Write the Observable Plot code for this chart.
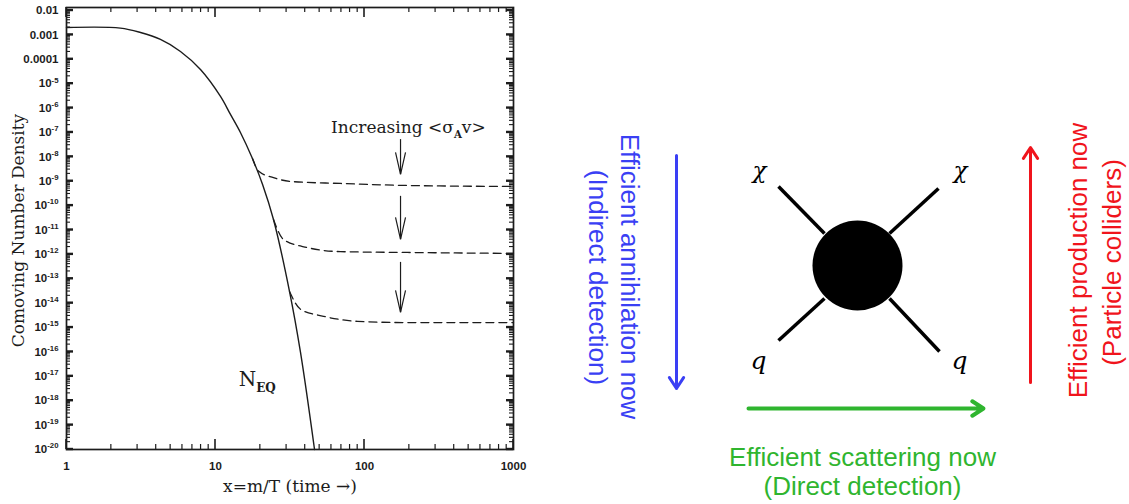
<!DOCTYPE html>
<html>
<head>
<meta charset="utf-8">
<script src="https://cdn.jsdelivr.net/npm/d3@7"></script>
<script src="https://cdn.jsdelivr.net/npm/@observablehq/plot@0.6"></script>
<style>
  html, body { margin: 0; padding: 0; background: #fff; }
  #wrap { position: relative; width: 1129px; height: 504px; overflow: hidden; background: #fff; }
  #left { position: absolute; left: 0; top: 0; }
  #right { position: absolute; left: 540px; top: 0; }
</style>
</head>
<body>
<div id="wrap"><div id="left"></div><div id="right"></div></div>
<script>
// ---------------- DATA (left panel: comoving number density) ----------------
const xTickValues = [1, 10, 100, 1000];
const xTickLabels = ["1", "10", "100", "1000"];
const yTickValues = [1e-2, 1e-3, 1e-4, 1e-5, 1e-6, 1e-7, 1e-8, 1e-9, 1e-10, 1e-11,
                     1e-12, 1e-13, 1e-14, 1e-15, 1e-16, 1e-17, 1e-18, 1e-19, 1e-20];
const yTickLabels = ["0.01", "0.001", "0.0001", "10^{-5}", "10^{-6}", "10^{-7}", "10^{-8}",
                     "10^{-9}", "10^{-10}", "10^{-11}", "10^{-12}", "10^{-13}", "10^{-14}",
                     "10^{-15}", "10^{-16}", "10^{-17}", "10^{-18}", "10^{-19}", "10^{-20}"];

// equilibrium curve N_EQ
const eqX = [1, 2.3, 3.14, 4.27, 5.82, 7.93, 10.8, 12.6, 14.7, 17.7, 20.7, 24.5, 31.4, 37.2, 46.2];
const eqY = [2.0e-3, 1.9e-3, 1.25e-3, 6.5e-4, 2.1e-4, 3.8e-5, 3.0e-6, 5.5e-7, 1.0e-7, 8.5e-9,
             7.4e-10, 2.7e-11, 3.0e-14, 9.6e-17, 1.0e-20];

// freeze-out (dashed) curves, increasing <sigma_A v>
const fo1X = [17.7, 19.4, 24.5, 31.9, 69, 194, 1000];
const fo1Y = [8.5e-9, 2.6e-9, 1.4e-9, 9.8e-10, 8.1e-10, 6.7e-10, 6.1e-10];
const fo2X = [24.5, 28.6, 41.4, 69, 194, 1000];
const fo2Y = [2.7e-11, 4.1e-12, 1.9e-12, 1.3e-12, 1.2e-12, 1.1e-12];
const fo3X = [31.4, 37.2, 53.1, 89.7, 194, 1000];
const fo3Y = [3.0e-14, 5.6e-15, 2.9e-15, 1.8e-15, 1.6e-15, 1.6e-15];

// "Increasing <sigma_A v>" arrows
const incArrowX = [174.5, 174.5, 174.5];
const incArrowFrom = [5.1e-8, 2.4e-10, 4.7e-13];
const incArrowTo = [1.9e-9, 4.1e-12, 4.2e-15];

const annText = ["Increasing <σ_{A}v>", "N_{EQ}"];
const annX = [197, 14.3];
const annY = [1.58e-7, 7.4e-18];
const xLabel = "x=m/T (time →)";
const yLabel = "Comoving Number Density";
const yLabelX = 0.476, yLabelY = 9.5e-12;

// ---------------- DATA (right panel: diagram) ----------------
const legX1 = [778, 938, 824, 889];
const legY1 = [186, 188, 298, 298];
const legX2 = [824, 889, 778, 939];
const legY2 = [233, 233, 340, 351];
const blobX = [857], blobY = [265];
const chiLabels = ["χ", "χ"], chiX = [759, 960], chiY = [170, 170];
const qLabels = ["q", "q"], qX = [758, 959], qY = [360, 360];

const blueLines = ["Efficient annihilation now", "(Indirect detection)"];
const blueX = [629, 597], blueY = [276, 277];
const greenLines = ["Efficient scattering now", "(Direct detection)"];
const greenX = [862, 862], greenY = [457, 486];
const redLines = ["Efficient production now", "(Particle colliders)"];
const redX = [1078, 1112], redY = [260, 262];
// arrows: [x1, y1, x2, y2]
const blueArrow = [676, 155, 676, 388];
const greenArrow = [748, 408, 983, 408];
const redArrow = [1030, 382, 1030, 147];

// ---------------- layout ----------------
const W = 540, H = 504, mL = 66, mR = 27, mT = 7, mB = 55;

// ---------------- build tables ----------------
const eq = eqX.map((x, i) => ({x, y: eqY[i]}));
const fo = [
  ...fo1X.map((x, i) => ({s: 1, x, y: fo1Y[i]})),
  ...fo2X.map((x, i) => ({s: 2, x, y: fo2Y[i]})),
  ...fo3X.map((x, i) => ({s: 3, x, y: fo3Y[i]}))
];
const incArrows = incArrowX.map((x, i) => ({x, y1: incArrowFrom[i], y2: incArrowTo[i]}));
const ann = annText.map((t, i) => ({t, x: annX[i], y: annY[i]}));

const yMinor = [];
for (let e = -20; e < -2; e++) for (let k = 2; k <= 9; k++) yMinor.push(k * Math.pow(10, e));
const xMinor = [];
for (let e = 0; e < 3; e++) for (let k = 2; k <= 9; k++) xMinor.push(k * Math.pow(10, e));

const ink = "#1c1c1c";
const vHead = {draw(ctx) { ctx.moveTo(-5, -22); ctx.lineTo(0, 0); ctx.lineTo(5, -22); }};

// inward tick marks, drawn with D3 through the plot's own scales
function addTicks(svg) {
  const sx = svg.scale("x"), sy = svg.scale("y");
  const X0 = mL, X1 = W - mR, Y0 = mT, Y1 = H - mB;
  const g = d3.select(svg).append("g").attr("fill", "none");
  const seg = (x1, y1, x2, y2, w) => g.append("path")
    .attr("d", `M${x1},${y1}L${x2},${y2}`).attr("stroke", ink).attr("stroke-width", w);
  for (const v of yTickValues) { const y = sy.apply(v); seg(X0, y, X0 + 7, y, 2.4); seg(X1, y, X1 - 7, y, 2.4); }
  for (const v of yMinor) { const y = sy.apply(v); seg(X0, y, X0 + 4, y, 1.1); seg(X1, y, X1 - 4, y, 1.1); }
  for (const v of xTickValues) { const x = sx.apply(v); seg(x, Y1, x, Y1 - 10, 1.6); seg(x, Y0, x, Y0 + 10, 1.6); }
  for (const v of xMinor) { const x = sx.apply(v); seg(x, Y1, x, Y1 - 5, 1.2); seg(x, Y0, x, Y0 + 5, 1.2); }
}

const left = Plot.plot({
  width: W, height: H,
  marginLeft: mL, marginRight: mR, marginTop: mT, marginBottom: mB,
  x: {type: "log", domain: [1, 1000]},
  y: {type: "log", domain: [1e-20, 0.0133]},
  style: {background: "white", color: ink, fontFamily: "'Liberation Sans', Arial, sans-serif"},
  marks: [
    Plot.axisY({anchor: "left", ticks: yTickValues, tickSize: 0, tickPadding: 8, label: null,
      tickFormat: d => yTickLabels[yTickValues.indexOf(d)], fontSize: 11.5, fontWeight: "bold"}),
    Plot.axisX({anchor: "bottom", ticks: xTickValues, tickSize: 0, tickPadding: 12, label: null,
      tickFormat: d => xTickLabels[xTickValues.indexOf(d)], fontSize: 11.5, fontWeight: "bold"}),
    Plot.frame({stroke: ink, strokeWidth: 1.7}),
    // curves
    Plot.line(eq, {x: "x", y: "y", stroke: ink, strokeWidth: 1.4, curve: "catmull-rom"}),
    Plot.line(fo, {x: "x", y: "y", z: "s", stroke: ink, strokeWidth: 1.3, strokeDasharray: "8,5", curve: "monotone-x"}),
    // arrows
    Plot.ruleX(incArrows, {x: "x", y1: "y1", y2: "y2", stroke: ink, strokeWidth: 1.2}),
    Plot.dot(incArrows, {x: "x", y: "y2", symbol: vHead, fill: "none", stroke: ink, strokeWidth: 1.2}),
    Plot.text(ann.slice(0, 1), {x: "x", y: "y", text: "t", fontFamily: "'DejaVu Serif', serif", fontSize: 17, fill: ink}),
    Plot.text(ann.slice(1), {x: "x", y: "y", text: "t", textAnchor: "start", fontFamily: "'DejaVu Serif', serif", fontSize: 20, fill: ink}),
    // axis titles
    Plot.text([yLabel], {x: () => yLabelX, y: () => yLabelY, rotate: -90, text: d => d, fontFamily: "'DejaVu Serif', serif", fontSize: 17, fill: ink}),
    Plot.text([xLabel], {frameAnchor: "bottom", dy: 42, text: d => d, fontFamily: "'DejaVu Serif', serif", fontSize: 17, fill: ink})
  ]
});

const blue = "#3a3ff4", green = "#2fb52f", red = "#f0141c";
const legs = legX1.map((x1, i) => ({x1, y1: legY1[i], x2: legX2[i], y2: legY2[i]}));
const arrowRow = a => [{x1: a[0], y1: a[1], x2: a[2], y2: a[3]}];
const rows = (lines, xs, ys) => lines.map((t, i) => ({t, x: xs[i], y: ys[i]}));
const txtFont = "'Liberation Sans', Arial, Helvetica, sans-serif";

const right = Plot.plot({
  width: 589, height: 504,
  marginLeft: 0, marginRight: 0, marginTop: 0, marginBottom: 0,
  x: {domain: [540, 1129], range: [0, 589], axis: null},
  y: {domain: [0, 504], range: [0, 504], axis: null},
  style: {background: "white"},
  marks: [
    Plot.link(legs, {x1: "x1", y1: "y1", x2: "x2", y2: "y2", stroke: "black", strokeWidth: 3.5}),
    Plot.dot(blobX.map((x, i) => ({x, y: blobY[i]})), {x: "x", y: "y", r: 45, fill: "black"}),
    Plot.text(rows(chiLabels, chiX, chiY), {x: "x", y: "y", text: "t", fontFamily: "'DejaVu Serif', serif", fontStyle: "italic", fontSize: 23, fill: "black"}),
    Plot.text(rows(qLabels, qX, qY), {x: "x", y: "y", text: "t", fontFamily: "'DejaVu Serif', serif", fontStyle: "italic", fontSize: 25, fill: "black"}),
    Plot.arrow(arrowRow(blueArrow), {x1: "x1", y1: "y1", x2: "x2", y2: "y2", stroke: blue, strokeWidth: 3, headLength: 6.5, headAngle: 66}),
    Plot.arrow(arrowRow(greenArrow), {x1: "x1", y1: "y1", x2: "x2", y2: "y2", stroke: green, strokeWidth: 4, headLength: 5, headAngle: 66}),
    Plot.arrow(arrowRow(redArrow), {x1: "x1", y1: "y1", x2: "x2", y2: "y2", stroke: red, strokeWidth: 3, headLength: 6.5, headAngle: 66}),
    Plot.text(rows(blueLines, blueX, blueY), {x: "x", y: "y", text: "t", rotate: 90, fill: blue, fontFamily: txtFont, fontSize: 26}),
    Plot.text(rows(greenLines, greenX, greenY), {x: "x", y: "y", text: "t", fill: green, fontFamily: txtFont, fontSize: 26}),
    Plot.text(rows(redLines, redX, redY), {x: "x", y: "y", text: "t", rotate: -90, fill: red, fontFamily: txtFont, fontSize: 26})
  ]
});

document.getElementById("left").appendChild(left);
document.getElementById("right").appendChild(right);
addTicks(left);

// rich text: ^{...} superscript, _{...} subscript
function applyRich(svg) {
  svg.querySelectorAll("text").forEach(t => {
    const targets = t.children.length ? Array.from(t.querySelectorAll("tspan")) : [t];
    targets.forEach(el => {
      const s = el.textContent;
      if (!/[\^_]\{/.test(s)) return;
      const fs = parseFloat(getComputedStyle(el).fontSize) || 12;
      const parts = s.split(/(\^\{[^}]*\}|_\{[^}]*\})/).filter(p => p !== "");
      el.textContent = "";
      let shift = 0;
      for (const p of parts) {
        const ts = document.createElementNS("http://www.w3.org/2000/svg", "tspan");
        let target = 0, txt = p, kind = null;
        if (p.startsWith("^{")) { target = -0.42 * fs; txt = p.slice(2, -1); kind = "sup"; }
        else if (p.startsWith("_{")) { target = 0.32 * fs; txt = p.slice(2, -1); kind = "sub"; }
        ts.setAttribute("dy", (target - shift).toFixed(2));
        shift = target;
        if (kind) {
          ts.setAttribute("font-size", (fs * (kind === "sup" ? 0.68 : 0.6)).toFixed(1));
          ts.setAttribute("font-weight", "bold");
        }
        ts.textContent = txt;
        el.appendChild(ts);
      }
    });
  });
}
applyRich(left);
</script>
</body>
</html>
